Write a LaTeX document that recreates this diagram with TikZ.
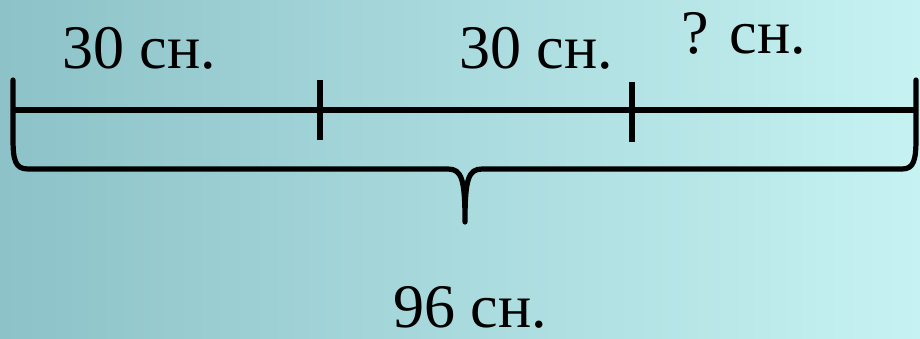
\documentclass[tikz,border=0pt]{standalone}
\usepackage{fontspec}
\setmainfont{Liberation Serif}
\usepackage{xcolor}
\definecolor{bgleft}{RGB}{140, 194, 200}
\definecolor{bgright}{RGB}{198, 242, 242}

\begin{document}
\begin{tikzpicture}[
    x=0.5pt, y=-0.5pt,
    font=\fontsize{31}{35}\selectfont,
    bar/.style={line width=2.6pt, black},
    brace/.style={line width=2.6pt, black, line join=round, line cap=round},
    lbl/.style={anchor=base, inner sep=0pt}
]

    % ==========================================
    % BACKGROUND
    % ==========================================
    \shade[left color=bgleft, right color=bgright] (0, 0) rectangle (920, 338);
    \useasboundingbox (0, 0) rectangle (920, 338);

    % ==========================================
    % COORDINATES
    % ==========================================
    % Segment line
    \coordinate (seg_l) at (13, 110);
    \coordinate (seg_r) at (916, 110);

    % Tick marks
    \coordinate (tick_a_top) at (320, 80);
    \coordinate (tick_a_bot) at (320, 140);
    \coordinate (tick_b_top) at (632, 82);
    \coordinate (tick_b_bot) at (632, 142);

    % Ends of the line (also ends of the brace)
    \coordinate (end_l) at (13, 80);
    \coordinate (end_r) at (916, 80);

    % Brace tip
    \coordinate (tip) at (465, 222);


    % ==========================================
    % SEGMENT AND TICKS
    % ==========================================
    \draw[bar] (seg_l) -- (seg_r);
    \draw[bar] (tick_a_top) -- (tick_a_bot);
    \draw[bar] (tick_b_top) -- (tick_b_bot);


    % ==========================================
    % BRACE
    % ==========================================
    \draw[brace] (end_l) -- (13, 138)
        .. controls (13, 160) and (15, 169) .. (28, 169)
        -- (448, 169)
        .. controls (462, 169) and (465, 180) .. (tip)
        .. controls (465, 180) and (468, 169) .. (482, 169)
        -- (902, 169)
        .. controls (914, 169) and (916, 160) .. (916, 138)
        -- (end_r);


    % ==========================================
    % LABELS
    % ==========================================
    \node[lbl] (lbl_first)  at (139, 68) {30 сн.};
    \node[lbl] (lbl_second) at (536, 68) {30 сн.};
    \node[lbl] (lbl_third)  at (744, 53) {? сн.};
    \node[lbl] (lbl_total)  at (470, 327) {96 сн.};

\end{tikzpicture}
\end{document}
